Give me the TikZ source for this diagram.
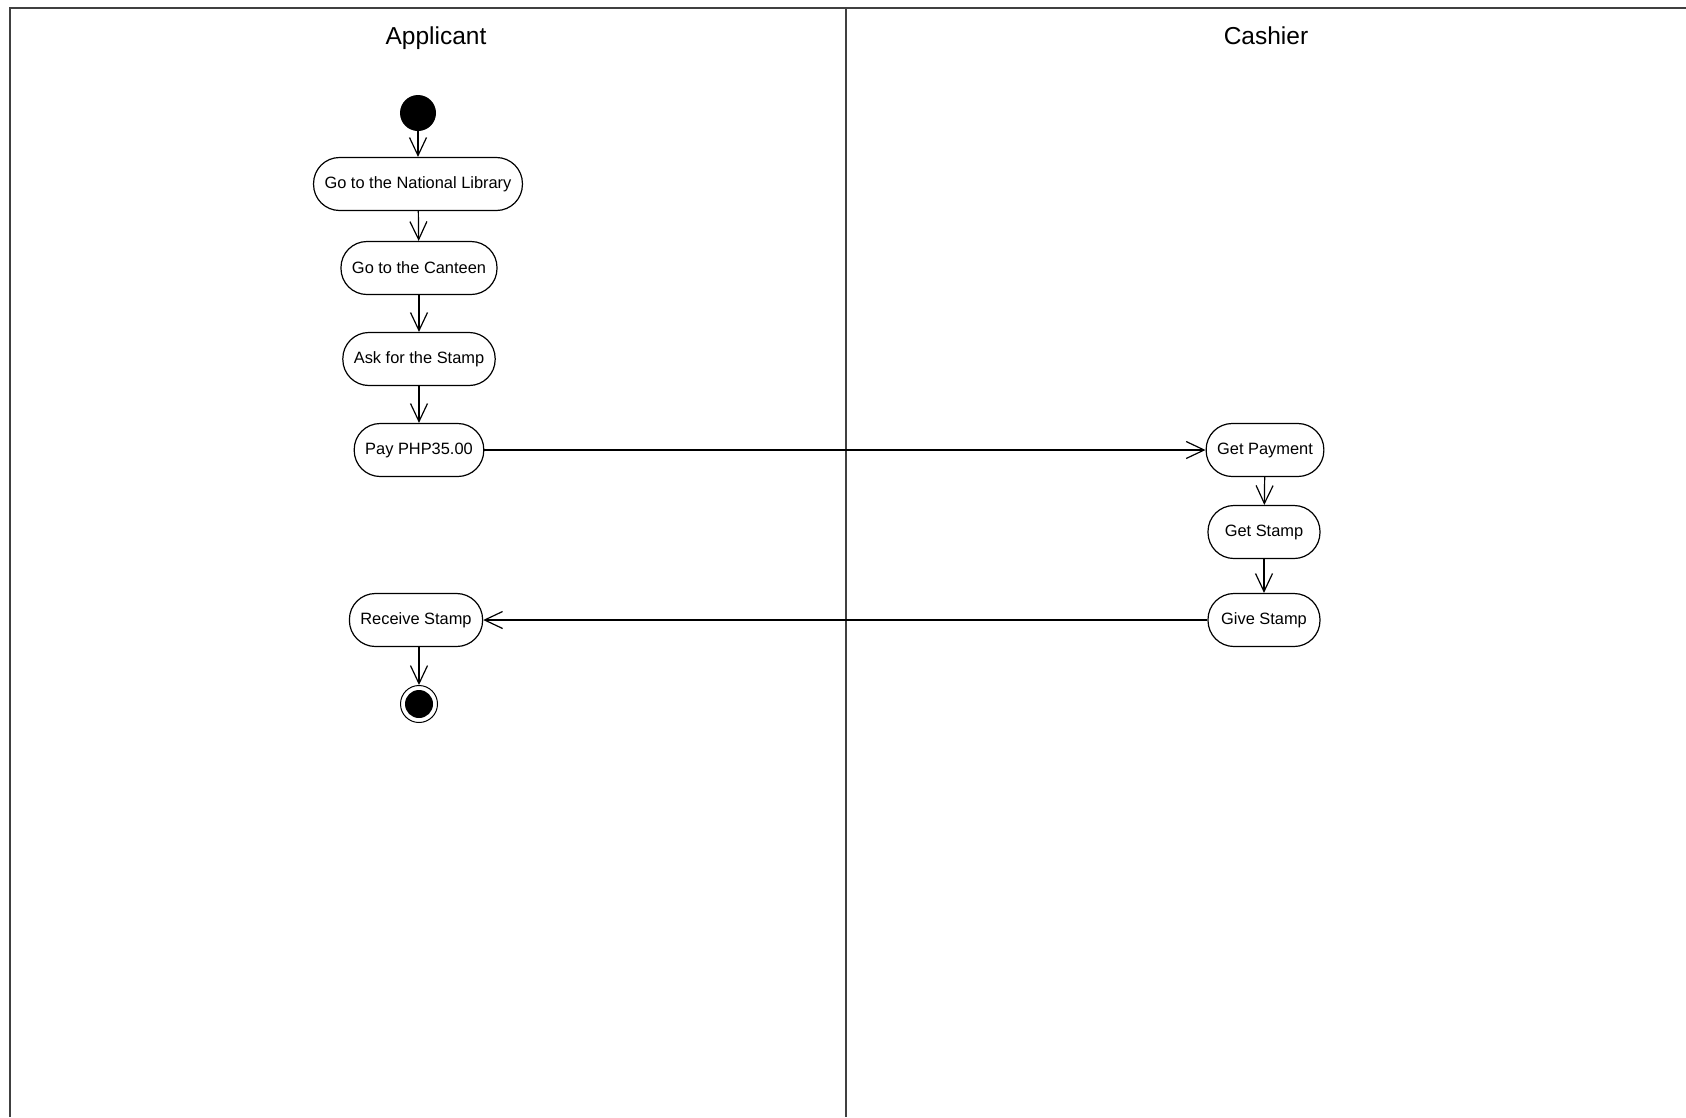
\documentclass[tikz,border=0pt]{standalone}
\usepackage{fontspec}
\setmainfont{Liberation Sans}
\usepackage{tikz}
\usetikzlibrary{arrows.meta,positioning}

\begin{document}
\begin{tikzpicture}[x=1pt,y=-1pt,
    >={Straight Barb[length=18pt,width=17pt]},
    lane/.style={line width=2pt,draw=black!75},
    activity/.style={rectangle,draw,line width=1.2pt,rounded corners=26pt,
       minimum height=53pt,minimum width=112pt,inner xsep=11pt,
       font=\fontsize{16.4}{18}\selectfont},
    title/.style={anchor=base,font=\fontsize{24.5}{28}\selectfont}]
    \useasboundingbox (0,0) rectangle (1686,1117);

    %Swimlanes
    \draw[lane] (10,1117) -- (10,8) -- (1686,8);
    \draw[lane] (846,8) -- (846,1117);
    \node[title] (applicant) at (436,44) {Applicant};
    \node[title] (cashier) at (1266,44) {Cashier};

    %Applicant
     \begin{scope}[every node/.style={activity}]
       \node (library) at (418,184) {Go to the National Library};
       \node (canteen) at (419,268) {Go to the Canteen};
       \node (ask) at (419,359) {Ask for the Stamp};
       \node[minimum width=0pt] (pay) at (419,450) {Pay PHP35.00};
       \node (receive) at (416,620) {Receive Stamp};
    \end{scope}
    \node[circle,fill,minimum size=36pt,inner sep=0pt] (start) at (418,113) {};
    \node[circle,draw,line width=1pt,minimum size=37pt,inner sep=0pt,
       path picture={\fill (path picture bounding box.center) circle (14pt);}]
       (end) at (419,704) {};

    %Cashier
     \begin{scope}[every node/.style={activity}]
       \node (payment) at (1265,450) {Get Payment};
       \node (getstamp) at (1264,532) {Get Stamp};
       \node (give) at (1264,620) {Give Stamp};
    \end{scope}

    \begin{scope}[every edge/.style={draw,->,line width=1.2pt}]
      \path (start) edge (library);
      \path (library) edge (canteen);
      \path (canteen) edge (ask);
      \path (ask) edge (pay);
      \path (pay) edge (payment);
      \path (payment) edge (getstamp);
      \path (getstamp) edge (give);
      \path (give) edge (receive);
      \path (receive.south -| end) edge (end);
    \end{scope}
  \end{tikzpicture}
\end{document}
